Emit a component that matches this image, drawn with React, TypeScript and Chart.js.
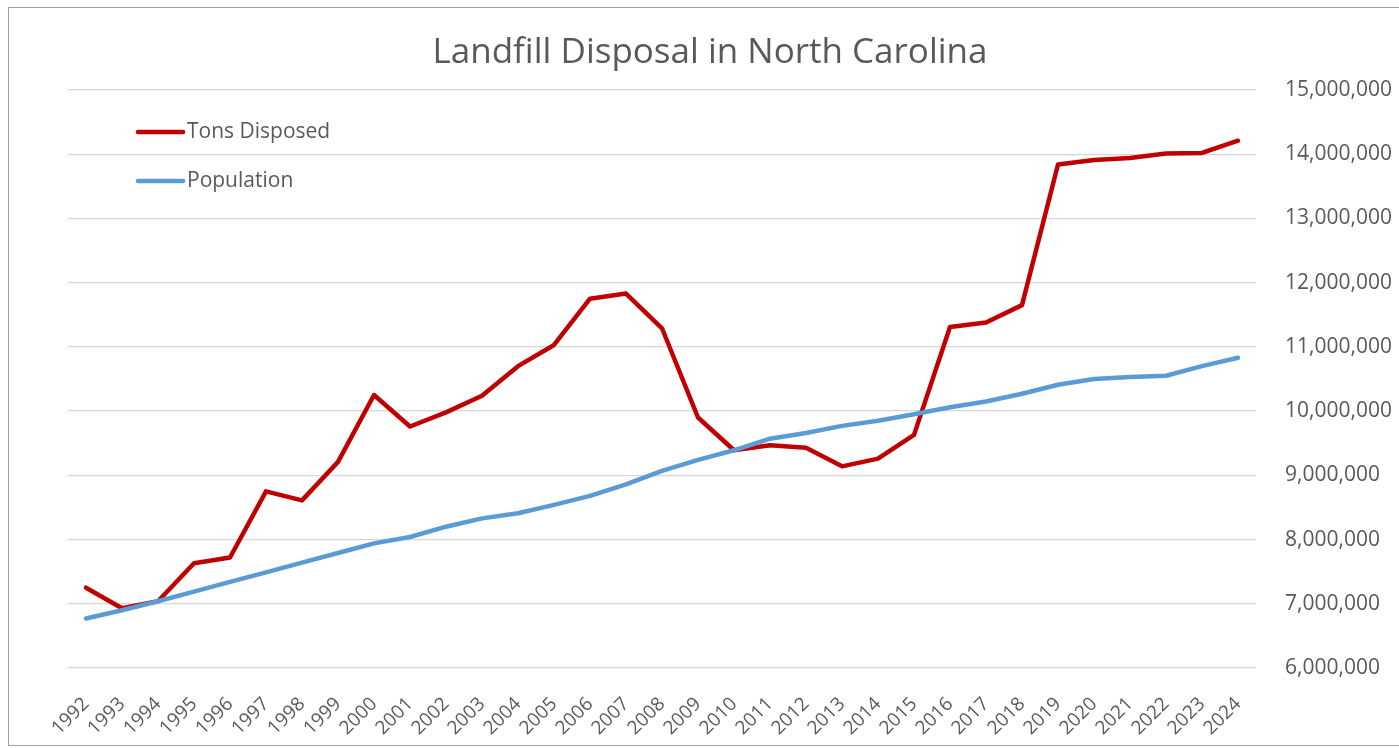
import React, { useEffect, useRef } from "react";
import { Chart, registerables } from "chart.js";

Chart.register(...registerables);

const years = [
  "1992", "1993", "1994", "1995", "1996", "1997", "1998", "1999", "2000", "2001", "2002",
  "2003", "2004", "2005", "2006", "2007", "2008", "2009", "2010", "2011", "2012", "2013",
  "2014", "2015", "2016", "2017", "2018", "2019", "2020", "2021", "2022", "2023", "2024",
];

const tonsDisposed = [
  7250000, 6930000, 7040000, 7630000, 7720000, 8750000, 8610000, 9210000, 10250000, 9760000, 9980000,
  10240000, 10700000, 11030000, 11750000, 11830000, 11290000, 9900000, 9390000, 9470000, 9430000, 9140000,
  9260000, 9630000, 11310000, 11380000, 11650000, 13840000, 13910000, 13940000, 14010000, 14020000, 14210000,
];

const population = [
  6770000, 6900000, 7040000, 7190000, 7340000, 7490000, 7640000, 7790000, 7940000, 8040000, 8200000,
  8330000, 8410000, 8540000, 8680000, 8860000, 9070000, 9240000, 9390000, 9570000, 9660000, 9770000,
  9850000, 9950000, 10060000, 10150000, 10270000, 10410000, 10500000, 10530000, 10550000, 10700000, 10830000,
];

const TITLE = "Landfill Disposal in North Carolina";
const FONT = "'Open Sans', 'Noto Sans', sans-serif";
const TEXT = "#595959";

const legendInArea = {
  id: "legendInArea",
  afterDraw(chart: any) {
    const { ctx, chartArea } = chart;
    const items = [0, 1].map((i) => chart.data.datasets[i]);
    ctx.save();
    ctx.font = `21px ${FONT}`;
    ctx.textBaseline = "middle";
    ctx.textAlign = "left";
    items.forEach((ds: any, i: number) => {
      const y = chartArea.top + 42 + i * 49;
      const x0 = chartArea.left + 70;
      ctx.strokeStyle = ds.borderColor;
      ctx.lineWidth = 4.5;
      ctx.lineCap = "round";
      ctx.beginPath();
      ctx.moveTo(x0, y);
      ctx.lineTo(x0 + 45, y);
      ctx.stroke();
      ctx.fillStyle = TEXT;
      ctx.fillText(ds.label, x0 + 49, y);
    });
    ctx.restore();
  },
};

export default function App() {
  const ref = useRef<HTMLCanvasElement | null>(null);

  useEffect(() => {
    if (!ref.current) return;
    const chart = new Chart(ref.current, {
      type: "line",
      data: {
        labels: years,
        datasets: [
          {
            label: "Tons Disposed",
            data: tonsDisposed,
            borderColor: "#C00000",
            backgroundColor: "#C00000",
            borderWidth: 4.5,
            pointRadius: 0,
            tension: 0,
            borderJoinStyle: "round",
            borderCapStyle: "round",
            order: 2,
          },
          {
            label: "Population",
            data: population,
            borderColor: "#5B9BD5",
            backgroundColor: "#5B9BD5",
            borderWidth: 4.5,
            pointRadius: 0,
            tension: 0,
            borderJoinStyle: "round",
            borderCapStyle: "round",
            order: 1,
          },
        ],
      },
      options: {
        animation: false,
        responsive: true,
        maintainAspectRatio: false,
        layout: { padding: { left: 12, right: 0, top: 0, bottom: 0 } },
        plugins: {
          legend: { display: false },
          tooltip: { enabled: false },
          title: {
            display: true,
            text: TITLE,
            color: TEXT,
            font: { family: FONT, size: 35, weight: "normal" },
            padding: { top: 24, bottom: 16 },
          },
        },
        scales: {
          x: {
            offset: true,
            grid: { display: false, drawTicks: false },
            border: { display: false },
            ticks: {
              autoSkip: false,
              minRotation: 45,
              maxRotation: 45,
              padding: 25,
              color: TEXT,
              font: { family: FONT, size: 19 },
            },
            afterFit(scale: any) {
              scale.height = 77;
            },
          },
          yLeft: {
            position: "left",
            display: true,
            grid: { display: false, drawTicks: false },
            border: { display: false },
            ticks: { display: false },
            afterFit(scale: any) {
              scale.width = 47;
            },
          },
          y: {
            position: "right",
            min: 6000000,
            max: 15000000,
            grid: { color: "#d6d6d6", lineWidth: 1.3, drawTicks: false },
            border: { display: false },
            ticks: {
              stepSize: 1000000,
              padding: 29,
              color: TEXT,
              font: { family: FONT, size: 21 },
              callback: (v: any) => Number(v).toLocaleString("en-US"),
            },
            afterFit(scale: any) {
              scale.width = 143;
            },
          },
        },
      },
      plugins: [legendInArea],
    });
    return () => chart.destroy();
  }, []);

  return (
    <div
      style={{
        position: "absolute",
        left: 8,
        top: 7,
        width: 1391,
        height: 739,
        boxSizing: "border-box",
        borderLeft: "1px solid #a0a0a0",
        borderTop: "1px solid #a0a0a0",
        borderBottom: "1px solid #a0a0a0",
        background: "#fff",
      }}
    >
      <canvas ref={ref} />
    </div>
  );
}
